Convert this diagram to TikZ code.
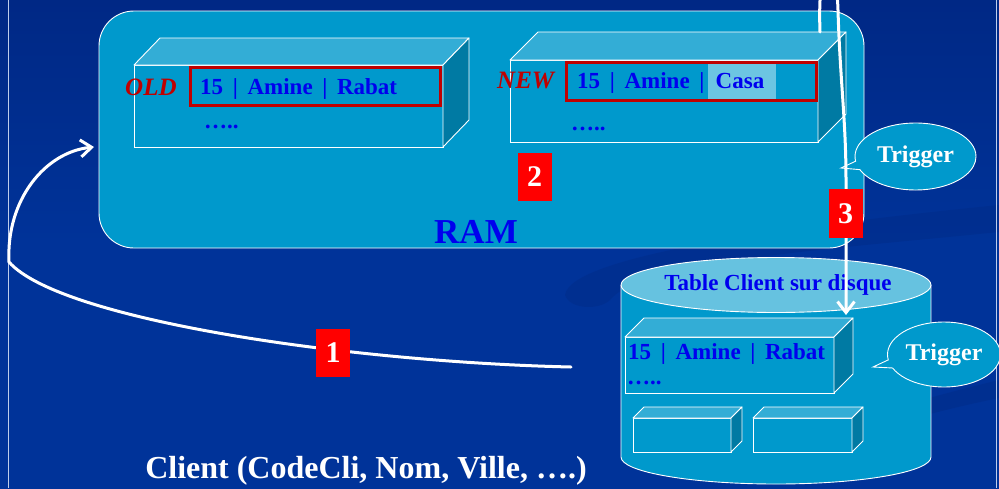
\documentclass[tikz,border=0pt]{standalone}
\usepackage{fontspec}
\setmainfont{Liberation Serif}
\usetikzlibrary{arrows.meta,shapes.callouts,calc}

\definecolor{slidebg}{RGB}{0,51,153}
\definecolor{slidetop}{RGB}{0,40,133}
\definecolor{swoosh}{RGB}{0,43,135}
\definecolor{ramfill}{RGB}{0,153,204}
\definecolor{boxtop}{RGB}{51,173,214}
\definecolor{boxside}{RGB}{0,122,163}
\definecolor{disktop}{RGB}{102,194,224}
\definecolor{recblue}{RGB}{0,0,238}
\definecolor{recred}{RGB}{192,0,0}
\definecolor{casafill}{RGB}{108,197,226}
\definecolor{tagred}{RGB}{255,0,0}
\definecolor{framecol}{RGB}{190,205,235}

\newcommand\fs[1]{\fontsize{#1}{#1}\selectfont}
\newcommand\recsep{\hspace{0.42em}|\hspace{0.42em}}

% top and side faces of a 3D box whose front face is node #1
\newcommand\boxfaces[3]{%
  \filldraw[topface] (#1.north west) -- ++(#2pt,#3pt) -- ($(#1.north east)+(#2pt,#3pt)$) -- (#1.north east) -- cycle;
  \filldraw[sideface] (#1.north east) -- ++(#2pt,#3pt) -- ($(#1.south east)+(#2pt,#3pt)$) -- (#1.south east) -- cycle;}

\tikzset{
  edge/.style={draw=white, line width=0.9pt},
  front/.style={edge, fill=ramfill, rectangle, inner sep=0pt, outer sep=0pt},
  topface/.style={edge, fill=boxtop, line join=round},
  sideface/.style={edge, fill=boxside, line join=round},
  record/.style={font=\fs{23}\bfseries, text=recblue, inner sep=0pt, anchor=base west},
  dots/.style={font=\fs{23}\bfseries, text=recblue, inner sep=0pt, anchor=base west},
  recframe/.style={draw=recred, line width=3pt, rectangle, inner sep=0pt, outer sep=0pt},
  version/.style={font=\fs{25}\bfseries\itshape, text=recred, inner sep=0pt, anchor=base west},
  tag/.style={fill=tagred, text=white, font=\fs{30}\bfseries, inner sep=0pt, minimum width=34pt, minimum height=48pt},
  bubble/.style={ellipse callout, edge, fill=ramfill, text=white, font=\fs{24}\bfseries, inner sep=0pt},
  flow/.style={draw=white, line width=3pt, line cap=round,
    -{Straight Barb[length=11pt,width=17pt]}},
}

\begin{document}
\begin{tikzpicture}[x=1pt, y=-1pt]
\useasboundingbox (0,0) rectangle (999,488);

% slide background
\shade[top color=slidetop, bottom color=slidebg, middle color=slidebg] (0,0) rectangle (999,488);
\fill[swoosh, opacity=0.45] (565,295) .. controls (570,255) and (800,225) .. (999,205)
  -- (999,232) .. controls (820,250) and (640,262) .. (610,300) .. controls (600,310) and (570,310) .. (565,295) -- cycle;
\fill[swoosh, opacity=0.45] (860,420) .. controls (900,405) and (950,392) .. (999,380)
  -- (999,398) .. controls (950,408) and (905,420) .. (870,432) -- cycle;
\draw[framecol, line width=1pt] (8,0) -- (8,488);
\draw[framecol, line width=1pt] (996,0) -- (996,488);

% RAM area
\node[edge, fill=ramfill, rectangle, rounded corners=35pt, inner sep=0pt, outer sep=0pt,
      minimum width=765pt, minimum height=237pt] (ram) at (481.5,129.5) {};
\node[font=\fs{35}\bfseries, text=recblue, inner sep=0pt, anchor=base] (ramlabel) at (476,243) {RAM};

% OLD record buffer
\node[front, minimum width=309pt, minimum height=82pt] (oldbox) at (288.5,106) {};
\boxfaces{oldbox}{26}{27}
\node[recframe, minimum width=250pt, minimum height=38pt] (oldrec) at (315,86) {};
\node[record] (oldtext) at (200,94) {15\recsep Amine\recsep Rabat};
\node[dots] (olddots) at (204,128) {…..};
\node[version] (oldtag) at (125,95) {OLD};

% NEW record buffer
\node[front, minimum width=308pt, minimum height=82pt] (newbox) at (664,101) {};
\boxfaces{newbox}{28}{28}
\node[fill=casafill, inner sep=0pt, minimum width=68pt, minimum height=36pt] (casabg) at (742,81) {};
\node[recframe, minimum width=250pt, minimum height=38pt] (newrec) at (691,81) {};
\node[record] (newtext) at (577,88) {15\recsep Amine\recsep};
\node[font=\fs{23}\bfseries, text=recblue, inner sep=0pt, anchor=base] (casatext) at (740,88) {Casa};
\node[dots] (newdots) at (571,130) {…..};
\node[version] (newtag) at (497,88) {NEW};

% table on disk
\fill[ramfill] (621,285) rectangle (931,457);
\fill[ramfill] (776,457) ellipse[x radius=155pt, y radius=27pt];
\draw[edge] (621,285) -- (621,457) arc[start angle=180, end angle=360, x radius=155pt, y radius=27pt] -- (931,285);
\filldraw[fill=disktop, edge] (776,285) ellipse[x radius=155pt, y radius=27.5pt];
\node[font=\fs{23}\bfseries, text=recblue, inner sep=0pt, anchor=base] (disklabel) at (778,290) {Table Client sur disque};

\node[front, minimum width=209pt, minimum height=56pt] (diskrec) at (729.5,365) {};
\boxfaces{diskrec}{19}{19}
\node[record] (disktext) at (628,359) {15\recsep Amine\recsep Rabat};
\node[dots] (diskdots) at (627,384) {…..};

\node[front, minimum width=98pt, minimum height=34pt] (blockA) at (682,435) {};
\boxfaces{blockA}{11}{11}
\node[front, minimum width=99pt, minimum height=34pt] (blockB) at (802.5,435) {};
\boxfaces{blockB}{11}{11}

% triggers
\node[bubble, minimum width=121pt, minimum height=67pt, callout absolute pointer={(841,168)}] (trig1) at (915.5,156.5) {Trigger};
\node[bubble, minimum width=113pt, minimum height=65pt, callout absolute pointer={(873,367)}] (trig2) at (944,354.5) {Trigger};

% relation name
\node[font=\fs{32}\bfseries, text=white, inner sep=0pt, anchor=base] (relation) at (366,478) {Client (CodeCli, Nom, Ville, ….)};

% flows
\coordinate (a1s) at (571,367);
\coordinate (a1e) at ([shift={(-5pt,-17.5pt)}]ram.west);
\draw[flow] (a1s) .. controls (350,362) and (60,320) .. (9,262)
  .. controls (6,200) and (45,152) .. (a1e);

\coordinate (a3s) at ([shift={(2pt,28pt)}]newbox.north east);
\coordinate (a3e) at ([shift={(12pt,22pt)}]diskrec.north east);
\draw[flow] (a3s) .. controls (817,-50) and (836,-50) .. (838,10)
  .. controls (840,80) and (846,120) .. (846,180) -- (a3e);

% step numbers
\node[tag] (step1) at (333,353) {1};
\node[tag] (step2) at (534.5,177) {2};
\node[tag, minimum height=49pt] (step3) at (845.5,213.5) {3};
\end{tikzpicture}
\end{document}
